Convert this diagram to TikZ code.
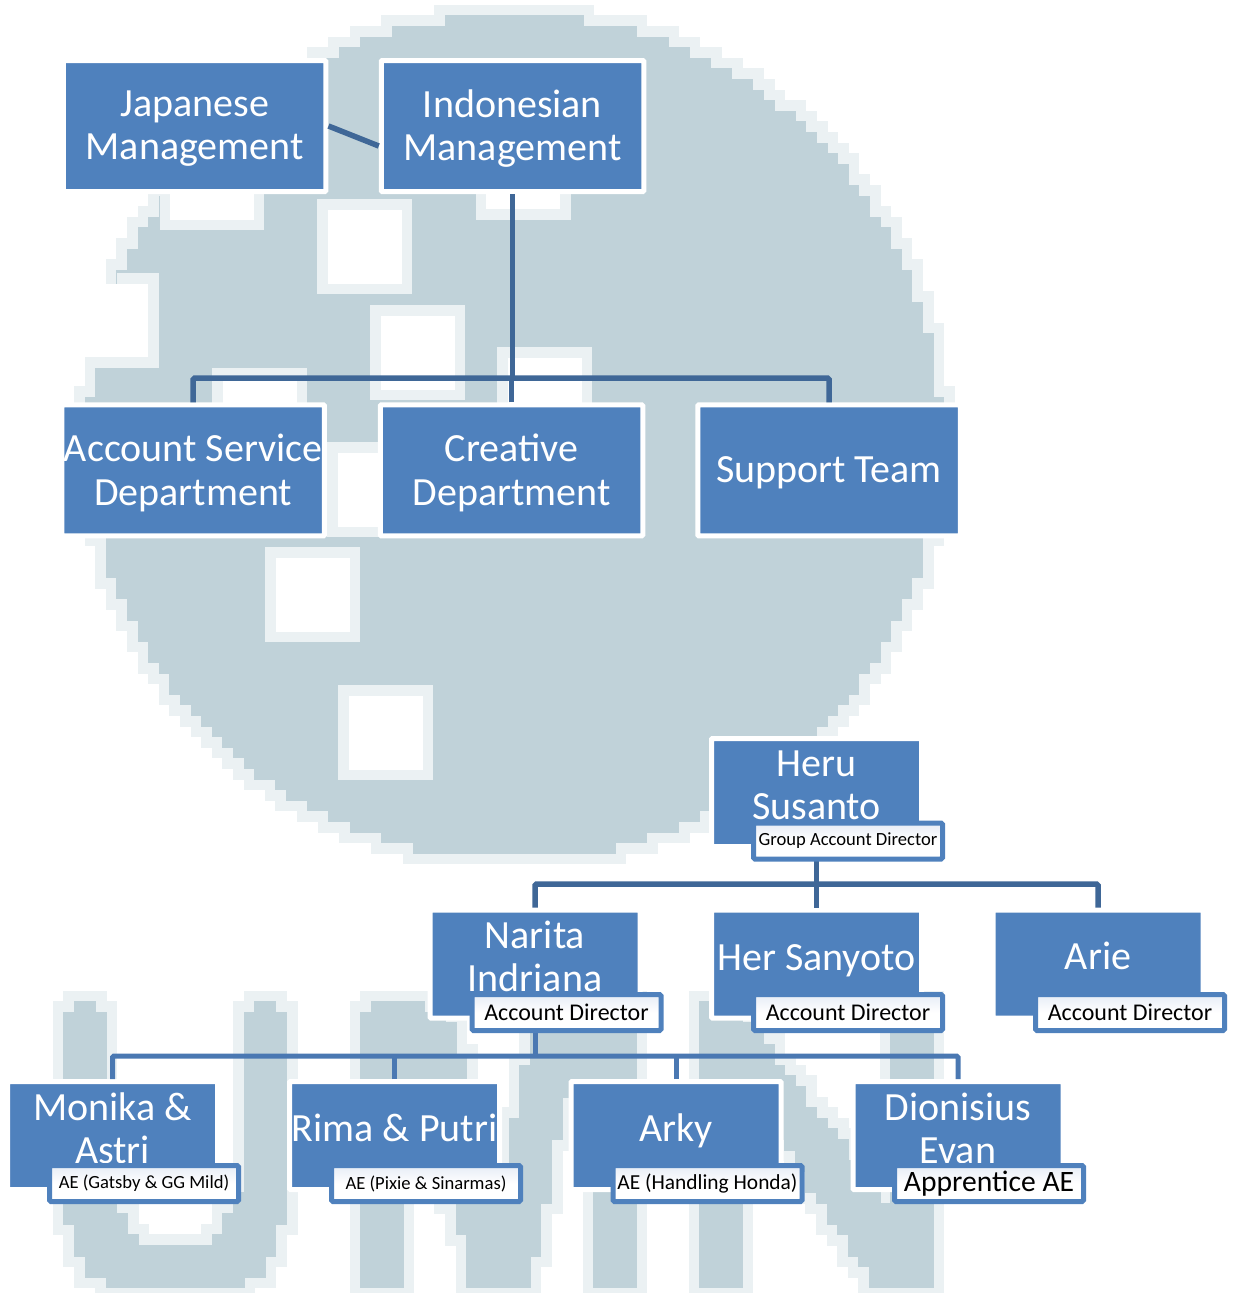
\documentclass[tikz,border=0pt]{standalone}
\usepackage{fontspec}
\setmainfont{Carlito}
\definecolor{wmmain}{HTML}{C0D2D9}
\definecolor{wmhalo}{HTML}{EBF1F3}
\definecolor{boxblue}{HTML}{4F81BD}
\definecolor{linedark}{HTML}{3F6797}
\definecolor{linemid}{HTML}{4A78B2}
\definecolor{labeltop}{HTML}{E6ECF6}
\def\cell{10.6}
\def\dil{0}
\def\wmc{wmmain}
% one horizontal staircase row of the pixelated watermark
\newcommand\wmrow[3]{%
  \pgfmathsetmacro\rxl{round((#2)/\cell)*\cell-\dil*\cell}%
  \pgfmathsetmacro\rxr{round((#3)/\cell)*\cell+\dil*\cell}%
  \pgfmathsetmacro\ryt{#1*\cell+5-\dil*\cell}%
  \pgfmathsetmacro\ryb{(#1+1)*\cell+5+\dil*\cell}%
  \path[fill=\wmc,draw=\wmc,line width=.3pt] (\rxl,\ryt) rectangle (\rxr,\ryb);%
}
% band: y0 y1 left0 left1 right0 right1
\newcommand\band[6]{%
  \pgfmathtruncatemacro\ja{round((#1-5)/\cell)}%
  \pgfmathtruncatemacro\jb{round((#2-5)/\cell)-1}%
  \foreach \j in {\ja,...,\jb}{%
    \pgfmathsetmacro\ty{(\j*\cell+5+\cell/2-#1)/(#2-#1)}%
    \wmrow{\j}{#3+\ty*(#4-#3)}{#5+\ty*(#6-#5)}%
  }%
}
\newcommand\wmshapes{%
  % disc
  \foreach \j in {1,...,79}{%
    \pgfmathsetmacro\cy{(\j*\cell+5+\cell/2-437)/422}%
    \pgfmathsetmacro\hw{426*sqrt(max(0,1-\cy*\cy))}%
    \wmrow{\j}{514-\hw}{514+\hw}%
  }%
  % U
  \band{1002}{1012}{74}{74}{97}{97}%
  \band{1012}{1176}{64}{64}{107}{107}%
  \band{1176}{1204}{64}{64}{107}{118}%
  \band{1204}{1245}{64}{75}{118}{138}%
  \band{1002}{1012}{253}{253}{276}{276}%
  \band{1012}{1176}{243}{243}{286}{286}%
  \band{1176}{1204}{243}{233}{286}{286}%
  \band{1204}{1245}{233}{213}{286}{275}%
  \band{1245}{1267}{75}{85}{275}{265}%
  \band{1267}{1277}{90}{90}{260}{260}%
  \band{1277}{1287}{110}{110}{240}{240}%
  % M
  \band{1002}{1012}{370}{370}{427}{427}%
  \band{1012}{1022}{360}{360}{440}{440}%
  \band{1022}{1100}{360}{360}{455}{470}%
  \band{1100}{1204}{360}{455}{470}{497}%
  \band{1022}{1287}{360}{360}{402}{402}%
  \band{1204}{1287}{455}{470}{500}{500}%
  \band{1000}{1095}{535}{520}{633}{633}%
  \band{1095}{1195}{520}{497}{563}{548}%
  \band{1195}{1287}{470}{480}{548}{528}%
  \band{1000}{1287}{592}{592}{633}{633}%
  % N
  \band{1003}{1287}{698}{698}{740}{740}%
  \band{1003}{1100}{698}{740}{734}{809}%
  \band{1100}{1240}{754}{845}{809}{916}%
  \band{1240}{1287}{845}{877}{916}{930}%
  \band{1003}{1287}{888}{888}{930}{930}%
}
% square hole of the watermark
\newcommand\wmsq[2]{%
  \fill[wmhalo] (#1,#2) rectangle ++(95,95);%
  \fill[white] (#1+10.5,#2+10.5) rectangle ++(74,74);%
}
\tikzset{
  x=1pt,y=-1pt,
  boxbase/.style={rectangle,fill=boxblue,draw=white,line width=5pt,rounded corners=1pt,
    text=white,inner sep=0pt,align=center},
  deptbox/.style={boxbase,minimum width=262.5pt,minimum height=131pt},
  depttext/.style={text=white,align=center,inner sep=0pt,yshift=-2.5pt,
    font=\fontsize{40}{43.5}\selectfont},
  personbox/.style={boxbase,minimum width=210pt,minimum height=108pt},
  persontext/.style={text=white,align=center,inner sep=0pt,yshift=7.5pt,
    font=\fontsize{40}{43}\selectfont},
  rolebox/.style={rectangle,draw=boxblue,line width=5pt,rounded corners=1.5pt,
    top color=labeltop,bottom color=white,middle color=white,text=black,inner sep=0pt,
    minimum width=189pt,minimum height=36pt,font=\fontsize{24}{28}\selectfont},
  conn/.style={draw=linedark,line width=5.5pt,rounded corners=1.5pt},
  connlow/.style={draw=linemid,line width=5pt,rounded corners=1.5pt},
}
\begin{document}
\begin{tikzpicture}
\useasboundingbox (0,0) rectangle (1234,1293);
% ---------- watermark
\begingroup
\def\dil{1}\def\wmc{wmhalo}\wmshapes
\def\dil{0}\def\wmc{wmmain}\wmshapes
\endgroup
\fill[wmhalo] (117,273) rectangle (159,284);
\fill[wmhalo] (148,284) rectangle (159,357);
\fill[wmhalo] (85,357) rectangle (159,368);
\fill[white] (0,284) rectangle (148,357);
\fill[wmhalo] (160,190) rectangle (264,230);
\fill[white] (170,190) rectangle (254,220);
\fill[wmhalo] (476,190) rectangle (571,220);
\fill[white] (486,190) rectangle (560,209);
\wmsq{317}{199}
\wmsq{370}{305}
\wmsq{497}{347}
\wmsq{212}{368}
\wmsq{327}{442}
\wmsq{265}{547}
\wmsq{338}{685}
% ---------- top chart
\node[deptbox,label={[depttext]center:{Japanese\\Management}}] (jap) at (194.7,126) {};
\node[deptbox,label={[depttext]center:{Indonesian\\Management}}] (ind) at (512.5,126) {};
\node[deptbox,label={[depttext]center:{Account Service\\Department}}] (acc) at (193.2,470.3) {};
\node[deptbox,label={[depttext]center:{Creative\\Department}}] (cre) at (511.5,470.3) {};
\node[deptbox,label={[depttext]center:{Support Team}}] (sup) at (829,470.3) {};
\coordinate (busA) at (512.5,378);
\draw[conn,rounded corners=0pt] (jap.east) -- ([yshift=-20pt]ind.west);
\draw[conn] (ind.south) -- (busA);
\draw[conn] (acc.north) -- (acc.north |- busA) -- (sup.north |- busA) -- (sup.north);
\draw[conn] (cre.north) -- (cre.north |- busA);
% ---------- lower chart: people
\node[personbox,label={[persontext]center:{Heru\\Susanto}}] (heru) at (816.5,792.5) {};
\node[personbox,label={[persontext]center:{Narita\\Indriana}}] (nari) at (535,964) {};
\node[personbox,label={[persontext,yshift=-4pt]center:{Her Sanyoto}}] (hers) at (816.5,964) {};
\node[personbox,label={[persontext,yshift=1pt]center:{Arie}}] (arie) at (1098,964) {};
\node[personbox,label={[persontext]center:{Monika \&\\Astri}}] (moni) at (112.5,1135.5) {};
\node[personbox,label={[persontext]center:{Rima \& Putri}}] (rima) at (394.5,1135.5) {};
\node[personbox,label={[persontext,yshift=-3pt]center:{Arky}}] (arky) at (676,1135.5) {};
\node[personbox,label={[persontext]center:{Dionisius\\Evan}}] (dion) at (958,1135.5) {};
\coordinate (busB) at (816.5,884);
\coordinate (busC) at (535,1056);
\draw[conn] (heru.south) -- (busB);
\draw[conn] (nari.north) -- (nari.north |- busB) -- (arie.north |- busB) -- (arie.north);
\draw[conn] (hers.north) -- (hers.north |- busB);
\draw[connlow] (nari.south) -- (busC);
\draw[connlow] (moni.north) -- (moni.north |- busC) -- (dion.north |- busC) -- (dion.north);
\draw[connlow] (rima.north) -- (rima.north |- busC);
\draw[connlow] (arky.north) -- (arky.north |- busC);
% ---------- role labels
\node[rolebox,font=\fontsize{18.6}{22}\selectfont] (rheru) at (848,841) {Group Account Director};
\node[rolebox] (rnari) at (566.5,1012.5) {Account Director};
\node[rolebox] (rhers) at (848,1012.5) {Account Director};
\node[rolebox] (rarie) at (1130,1012.5) {Account Director};
\node[rolebox,font=\fontsize{18.6}{22}\selectfont] (rmoni) at (144,1183.5) {AE (Gatsby \& GG Mild)};
\node[rolebox,font=\fontsize{18.6}{22}\selectfont] (rrima) at (426,1183.5) {AE (Pixie \& Sinarmas)};
\node[rolebox,font=\fontsize{21.4}{25}\selectfont] (rarky) at (707.5,1183.5) {AE (Handling Honda)};
\node[rolebox,font=\fontsize{29.6}{33}\selectfont] (rdion) at (989,1183.5) {Apprentice AE};
\end{tikzpicture}
\end{document}
